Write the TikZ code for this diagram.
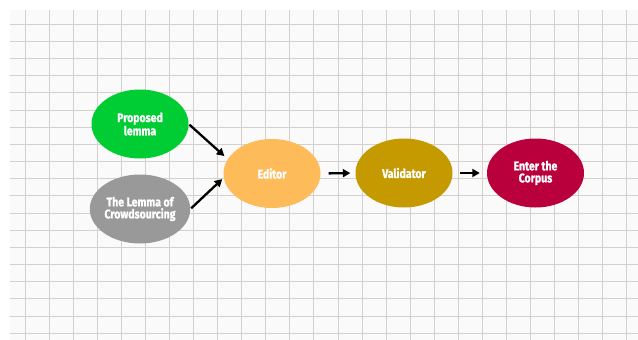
\documentclass[tikz,border=0pt]{standalone}
\usepackage{fontspec}
\usetikzlibrary{arrows.meta, shapes.geometric}
\newfontfamily\lemmafont{Fira Sans}[FakeStretch=0.84, BoldFeatures={FakeBold=1.2}]
\definecolor{paper}{RGB}{250,250,250}
\definecolor{gridgray}{RGB}{212,208,204}
\definecolor{lemmagreen}{RGB}{0,204,51}
\definecolor{lemmagray}{RGB}{153,153,153}
\definecolor{editorange}{RGB}{253,187,90}
\definecolor{validgold}{RGB}{196,154,0}
\definecolor{corpusred}{RGB}{185,0,60}

\begin{document}
\begin{tikzpicture}[x=1pt, y=-1pt,
    stage/.style={ellipse, minimum width=97pt, minimum height=69pt, inner sep=0pt,
        text=white, align=center, font=\lemmafont\bfseries\fontsize{12.5}{12}\selectfont},
    link/.style={line width=2.3pt, -{Triangle[length=7.5pt, width=8pt]}},
    gridline/.style={gridgray, line width=0.8pt}]
    \useasboundingbox (0,0) rectangle (638,340);

    % Paper with grid
    \fill[paper] (10,10) rectangle (638,340);
    \foreach \k in {0,...,25}
        \draw[gridline] ({25+24.07*\k},10) -- ({25+24.07*\k},340);
    \foreach \k in {0,...,18}
        \draw[gridline] (10,{24+17.18*\k}) -- (638,{24+17.18*\k});

    % Sources
    \node[stage, fill=lemmagreen] (prop) at (140,124) {Proposed\\lemma};
    \node[stage, fill=lemmagray] (crowd) at (140,209) {The Lemma of\\Crowdsourcing};

    % Pipeline
    \node[stage, fill=editorange] (edit) at (272,173.5) {Editor};
    \node[stage, fill=validgold] (valid) at (404,173) {Validator};
    \node[stage, fill=corpusred] (corpus) at (535.5,173) {Enter the\\Corpus};

    % Arrows
    \draw[link, shorten <=1pt, shorten >=4.5pt] (prop.east) -- (edit.162);
    \draw[link, shorten <=1pt, shorten >=2pt] (crowd.east) -- (edit.185);
    \draw[link, shorten <=8pt, shorten >=5pt] (edit.east) -- (valid.west);
    \draw[link, shorten <=7pt, shorten >=7pt] (valid.east) -- (corpus.west);
\end{tikzpicture}
\end{document}
